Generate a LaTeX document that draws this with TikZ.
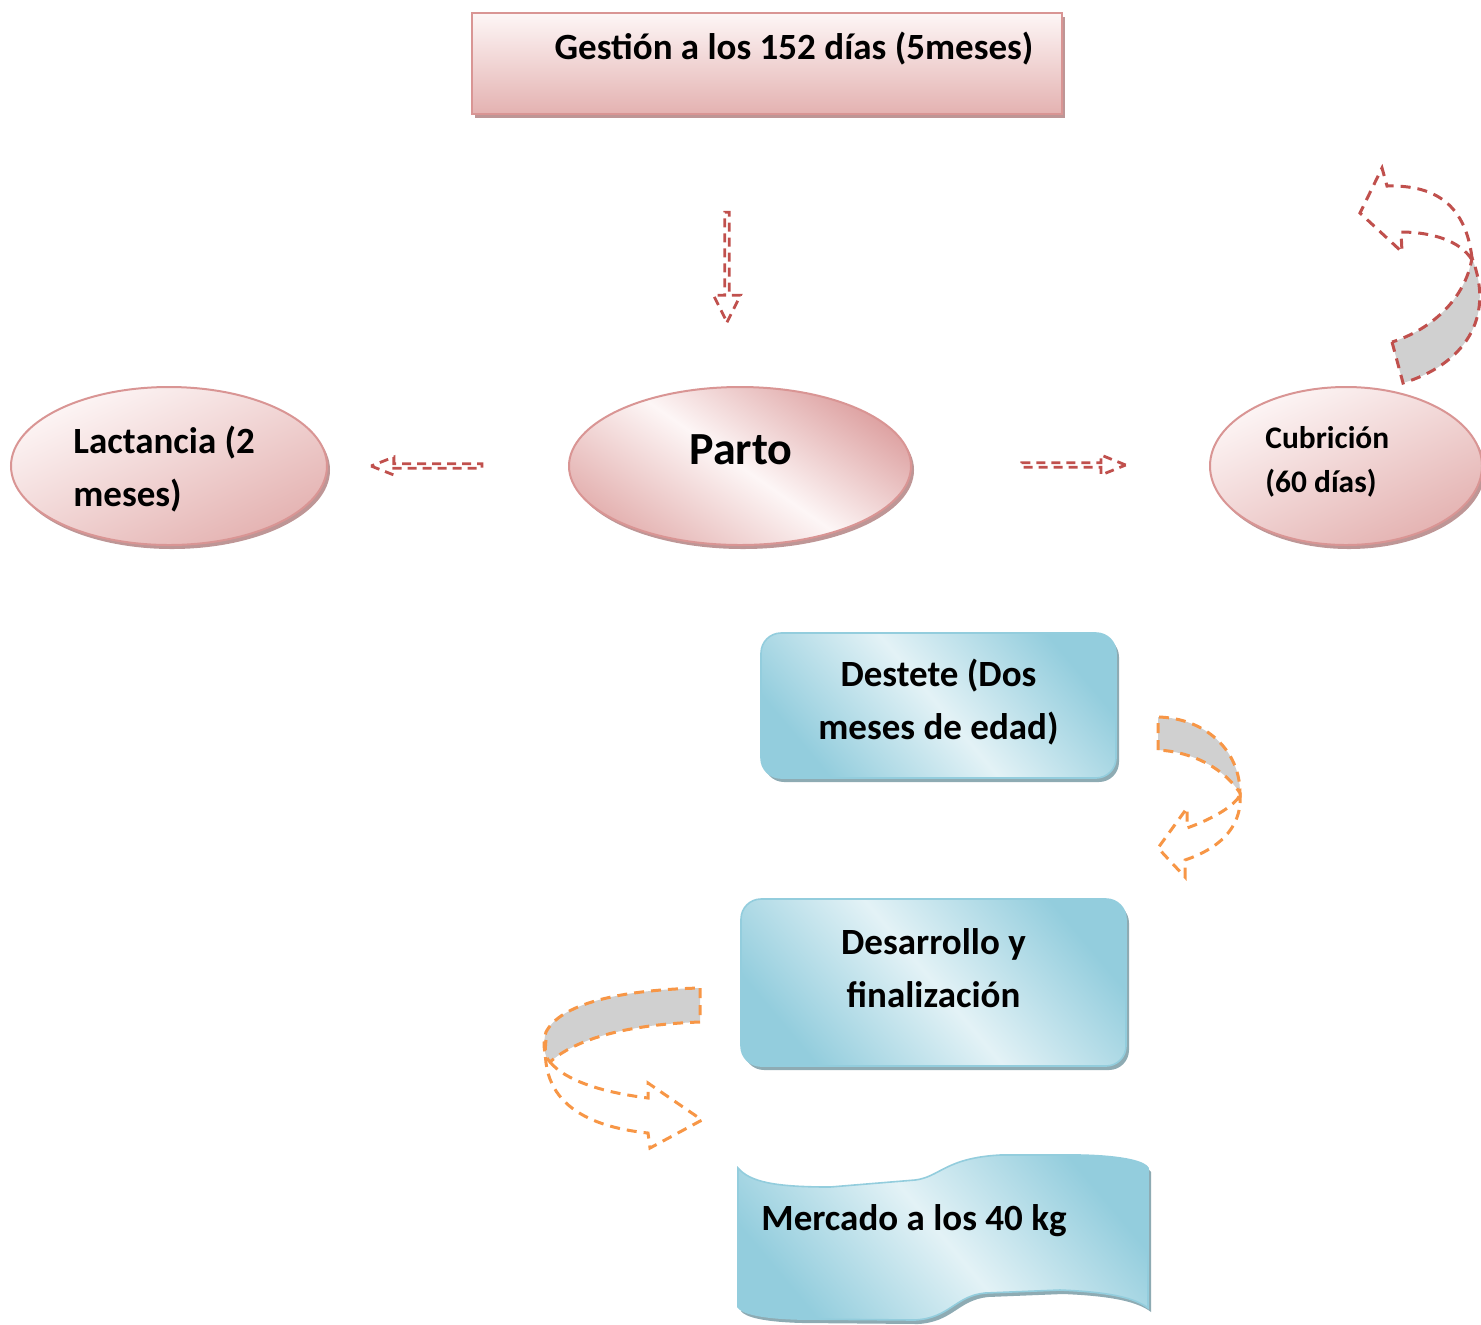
\documentclass[tikz,border=0pt]{standalone}
\usepackage{fontspec}
\setmainfont{Carlito}
\usetikzlibrary{shapes.geometric,shapes.arrows,shadows}
\definecolor{pinkLine}{HTML}{D99594}
\definecolor{pinkDark}{HTML}{E4B2B1}
\definecolor{pinkDeep}{HTML}{DEA3A3}
\definecolor{pinkLight}{HTML}{FDF6F6}
\definecolor{pinkShadow}{HTML}{BE9696}
\definecolor{blueDark}{HTML}{93CDDD}
\definecolor{blueLight}{HTML}{E3F2F6}
\definecolor{blueLine}{HTML}{93CDDD}
\definecolor{blueShadow}{HTML}{8EABB3}
\definecolor{arrRed}{HTML}{C0504D}
\definecolor{arrOrange}{HTML}{F79646}
\definecolor{ribGray}{HTML}{D0D0D0}

\begin{document}
\begin{tikzpicture}[x=0.5pt,y=-0.5pt,
  pinkshadow/.style={drop shadow={shadow xshift=1.5pt,shadow yshift=-2pt,fill=pinkShadow,opacity=1}},
  blueshadow/.style={drop shadow={shadow xshift=1.5pt,shadow yshift=-2pt,fill=blueShadow,opacity=1}},
  pinkbox/.style={rectangle, draw=pinkLine, line width=1pt, top color=pinkLight, bottom color=pinkDark, pinkshadow, inner sep=0pt},
  pinkoval/.style={ellipse, draw=pinkLine, line width=1pt, top color=pinkLight, bottom color=pinkDark, shading angle=25, pinkshadow, inner sep=0pt},
  bluebox/.style={rectangle, rounded corners=10pt, draw=blueLine, line width=0.8pt, top color=blueDark, bottom color=blueDark, middle color=blueLight, shading angle=-50, blueshadow, inner sep=0pt},
  hollowarrow/.style={single arrow, draw=arrRed, line width=1.4pt, dash pattern=on 4.5pt off 3pt, inner sep=0pt},
  redrib/.style={draw=arrRed, line width=1.5pt, dash pattern=on 5pt off 3.5pt, fill=ribGray},
  redback/.style={draw=arrRed, line width=1.5pt, dash pattern=on 5pt off 3.5pt},
  orangerib/.style={draw=arrOrange, line width=1.5pt, dash pattern=on 5pt off 3.5pt, fill=ribGray},
  orangeback/.style={draw=arrOrange, line width=1.5pt, dash pattern=on 5pt off 3.5pt},
  txt/.style={font=\bfseries\fontsize{18.5}{26.5}\selectfont, inner sep=0pt}]
\useasboundingbox (0,0) rectangle (1481,1324);

\node[pinkbox, minimum width=295pt, minimum height=50.5pt] (GestN) at (767,63.5) {};
\node[txt] (GestT) at (794,49) {Gestión a los 152 días (5meses)};

\node[hollowarrow, rotate=-90, minimum height=55pt, minimum width=13.5pt, single arrow head extend=3.5pt, single arrow tip angle=53] (ArrDown) at (727,265) {};

\node[pinkoval, minimum width=158pt, minimum height=79pt] (LactN) at (169,466) {};
\node[txt, align=left, anchor=west] (LactT) at (73,469) {Lactancia (2\\meses)};

\node[pinkoval, top color=pinkDeep, bottom color=pinkDark, middle color=pinkLight, shading angle=-35, minimum width=171pt, minimum height=79pt] (PartoN) at (740,466) {};
\node[txt, font=\bfseries\fontsize{23}{27}\selectfont] (PartoT) at (741,450) {Parto};

\node[pinkoval, minimum width=136pt, minimum height=79pt] (CubrN) at (1346,466) {};
\node[txt, font=\bfseries\fontsize{15.7}{22}\selectfont, align=left, anchor=west] (CubrT) at (1265,462) {Cubrición\\(60 días)};

\node[hollowarrow, rotate=180, minimum height=55.5pt, minimum width=9pt, single arrow head extend=2pt, single arrow tip angle=43] (ArrLeft) at (429.5,466) {};
\node[hollowarrow, minimum height=52pt, minimum width=10pt, single arrow head extend=2.5pt, single arrow tip angle=44] (ArrRight) at (1071,465) {};

\path[redrib] (1392,342) -- (1403,383) .. controls (1462,365) and (1496,320) .. (1472,258) .. controls (1465,300) and (1430,330) .. (1392,342) -- cycle;
\path[redback] (1472,258) .. controls (1465,200) and (1430,185) .. (1387,186) -- (1382,168) -- (1360,213) -- (1402,252) -- (1401,232) .. controls (1430,232) and (1460,240) .. (1472,260);

\node[bluebox, minimum width=177.5pt, minimum height=72.5pt] (DestN) at (938.5,705.5) {};
\node[txt, align=center] (DestT) at (938.5,702) {Destete (Dos\\meses de edad)};

\path[orangerib] (1158,750) -- (1158,717) .. controls (1205,718) and (1240,750) .. (1240,793) .. controls (1225,770) and (1195,752) .. (1158,750) -- cycle;
\path[orangeback] (1240,793) .. controls (1243,830) and (1215,850) .. (1185,860) -- (1185,877) -- (1158,848) -- (1187,808) -- (1187,828) .. controls (1215,818) and (1235,805) .. (1240,795);

\node[bluebox, minimum width=192.5pt, minimum height=83.5pt] (DesaN) at (933.5,982.5) {};
\node[txt, align=center] (DesaT) at (933.5,968) {Desarrollo y\\finalización};

\path[orangerib] (700,988) -- (700,1022) .. controls (640,1024) and (580,1035) .. (550,1062) .. controls (543,1055) and (543,1042) .. (546,1032) .. controls (560,1005) and (615,990) .. (700,988) -- cycle;
\path[orangeback] (546,1040) .. controls (538,1110) and (600,1128) .. (648,1133) -- (650,1148) -- (702,1120) -- (648,1083) -- (648,1098) .. controls (600,1092) and (565,1080) .. (550,1062);

\path[bluebox, rounded corners=0pt] (738,1168) .. controls (750,1182) and (775,1187) .. (830,1187) -- (915,1180) .. controls (940,1177) and (945,1158) .. (1000,1155) -- (1080,1155) .. controls (1125,1156) and (1145,1162) .. (1148,1168) -- (1148,1308) .. controls (1135,1298) and (1110,1292) .. (1060,1290) -- (985,1293) .. controls (955,1296) and (950,1318) .. (915,1320) -- (800,1319) .. controls (760,1318) and (742,1313) .. (738,1307) -- cycle;
\node[txt, anchor=west] (MercT) at (761,1221) {Mercado a los 40 kg};
\end{tikzpicture}
\end{document}
